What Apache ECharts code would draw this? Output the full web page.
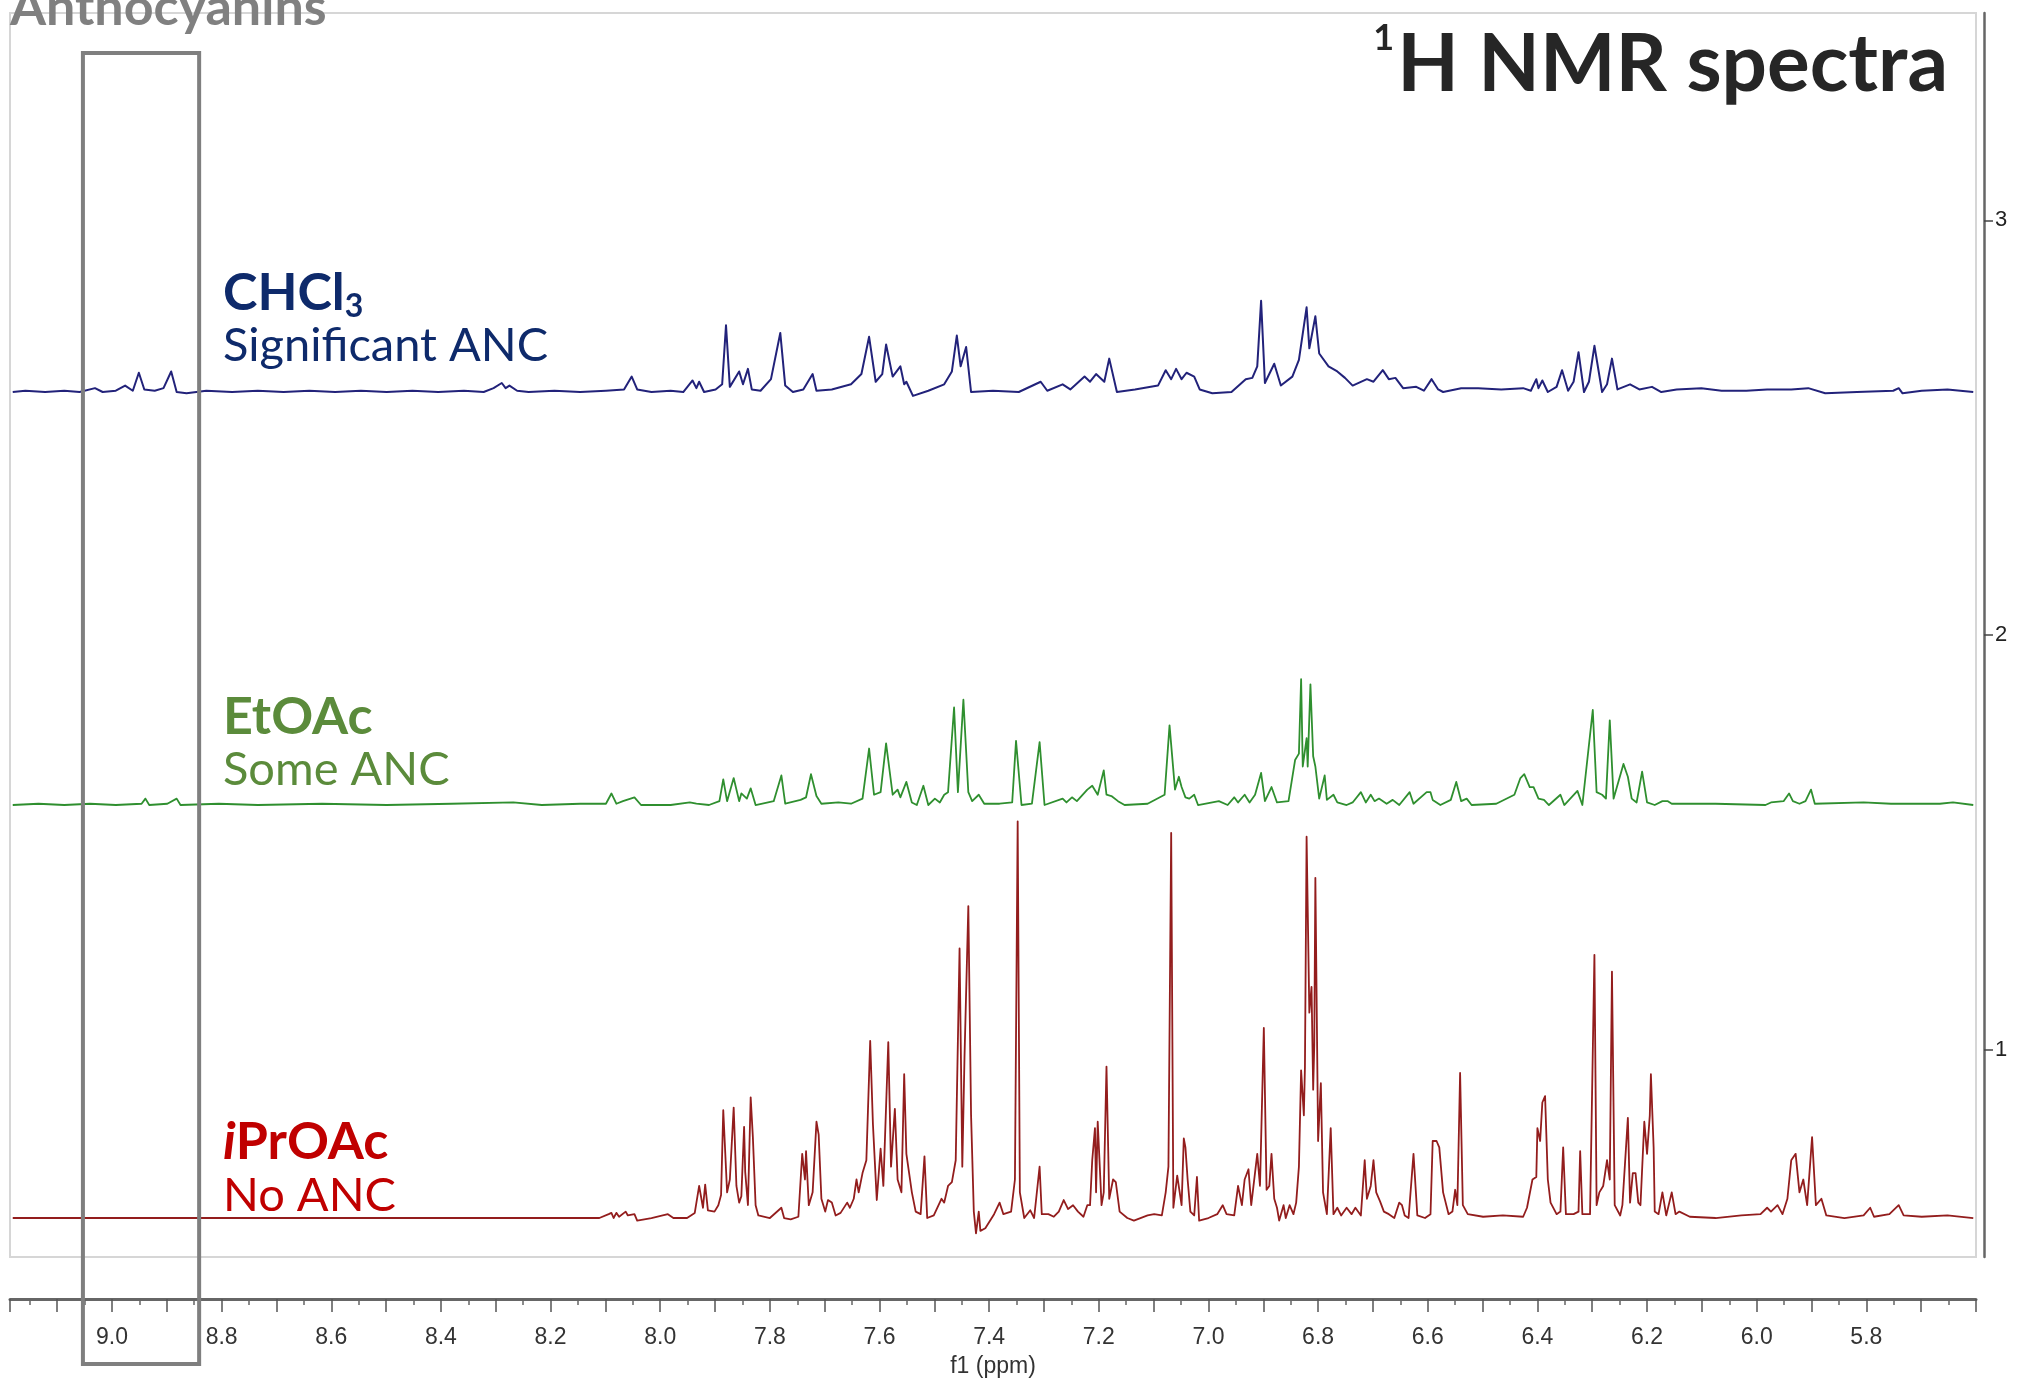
<!DOCTYPE html>
<html>
<head>
<meta charset="utf-8">
<title>1H NMR spectra</title>
<script src="https://cdn.jsdelivr.net/npm/echarts@6/dist/echarts.min.js"></script>
<style>
  html, body { margin: 0; padding: 0; background: #fff; }
  #chart { width: 2023px; height: 1383px; }
</style>
</head>
<body>
<div id="chart"></div>
<script>
// chemical shift (ppm) / intensity (a.u.)
const chcl3Trace = [
  [9.181,0],[9.158,1],[9.122,0],[9.087,1],[9.059,0],[9.031,3],[9.017,0],[8.993,1],[8.976,5],[8.962,1],
  [8.951,15],[8.941,2],[8.922,1],[8.906,3],[8.892,16],[8.882,0],[8.864,-1],[8.828,1],[8.781,0],[8.734,1],
  [8.687,0],[8.640,1],[8.593,0],[8.546,1],[8.499,0],[8.452,1],[8.405,0],[8.358,1],[8.322,0],[8.304,3],
  [8.289,7],[8.282,3],[8.275,5],[8.261,1],[8.240,0],[8.193,1],[8.146,0],[8.099,1],[8.066,2],[8.052,12],
  [8.042,2],[8.016,0],[7.981,1],[7.958,0],[7.941,9],[7.934,3],[7.929,8],[7.920,0],[7.899,2],[7.887,6],
  [7.880,52],[7.873,4],[7.856,16],[7.849,6],[7.840,18],[7.833,2],[7.817,1],[7.798,10],[7.781,46],[7.772,5],
  [7.758,0],[7.739,2],[7.722,14],[7.715,1],[7.687,2],[7.652,6],[7.633,14],[7.619,43],[7.607,8],[7.595,14],
  [7.588,37],[7.576,12],[7.562,20],[7.555,6],[7.551,8],[7.539,-3],[7.511,1],[7.482,6],[7.468,16],[7.459,44],
  [7.452,20],[7.442,35],[7.433,0],[7.393,1],[7.346,0],[7.306,8],[7.294,1],[7.266,6],[7.252,2],[7.226,12],
  [7.216,8],[7.205,14],[7.190,8],[7.181,26],[7.167,0],[7.134,2],[7.092,5],[7.078,17],[7.068,10],[7.059,18],
  [7.049,10],[7.040,15],[7.026,12],[7.016,2],[6.993,-1],[6.958,0],[6.932,10],[6.920,11],[6.911,20],[6.904,71],
  [6.897,7],[6.880,22],[6.868,5],[6.847,12],[6.835,25],[6.821,66],[6.816,34],[6.805,59],[6.798,30],[6.781,20],
  [6.765,16],[6.751,11],[6.737,5],[6.711,10],[6.699,8],[6.682,17],[6.671,10],[6.659,11],[6.645,3],[6.621,4],
  [6.607,1],[6.593,10],[6.581,2],[6.572,0],[6.539,3],[6.508,3],[6.466,2],[6.426,3],[6.412,1],[6.402,10],
  [6.398,3],[6.391,9],[6.381,0],[6.365,4],[6.355,17],[6.344,1],[6.334,8],[6.325,31],[6.315,0],[6.306,8],
  [6.296,36],[6.282,0],[6.273,6],[6.264,26],[6.254,2],[6.231,6],[6.214,2],[6.191,4],[6.174,0],[6.146,2],
  [6.101,3],[6.064,1],[6.019,1],[5.981,2],[5.937,2],[5.906,3],[5.875,-1],[5.817,0],[5.751,1],[5.741,3],
  [5.734,-1],[5.699,1],[5.652,2],[5.605,0]
];

const etoacTrace = [
  [9.181,0],[9.134,1],[9.087,0],[9.040,1],[8.993,0],[8.946,1],[8.939,5],[8.932,0],[8.899,1],[8.882,5],
  [8.875,0],[8.805,1],[8.734,0],[8.617,1],[8.499,0],[8.381,1],[8.268,2],[8.216,0],[8.146,1],[8.099,1],
  [8.089,9],[8.080,1],[8.068,3],[8.061,4],[8.047,6],[8.035,0],[7.981,0],[7.946,2],[7.934,1],[7.911,0],
  [7.892,3],[7.885,20],[7.878,3],[7.866,21],[7.856,3],[7.852,9],[7.842,5],[7.835,13],[7.826,0],[7.793,3],
  [7.779,23],[7.772,1],[7.744,4],[7.734,6],[7.725,24],[7.715,7],[7.706,1],[7.675,2],[7.652,1],[7.631,5],
  [7.619,44],[7.610,8],[7.598,10],[7.588,48],[7.576,8],[7.567,12],[7.562,6],[7.551,18],[7.541,2],[7.532,0],
  [7.520,15],[7.511,0],[7.499,5],[7.490,2],[7.482,8],[7.475,10],[7.464,76],[7.457,10],[7.447,82],[7.438,10],
  [7.431,3],[7.419,8],[7.409,1],[7.381,1],[7.358,2],[7.351,50],[7.341,0],[7.322,1],[7.308,49],[7.299,0],
  [7.266,5],[7.259,2],[7.249,6],[7.240,3],[7.221,12],[7.212,15],[7.202,8],[7.191,27],[7.186,8],[7.177,7],
  [7.165,3],[7.153,0],[7.111,1],[7.080,8],[7.071,62],[7.061,12],[7.054,22],[7.049,14],[7.042,6],[7.035,5],
  [7.026,8],[7.019,0],[6.981,3],[6.965,0],[6.953,6],[6.946,2],[6.934,8],[6.925,2],[6.915,8],[6.904,25],
  [6.897,3],[6.885,14],[6.875,2],[6.854,3],[6.842,35],[6.835,40],[6.831,98],[6.828,30],[6.821,52],[6.819,30],
  [6.814,94],[6.809,38],[6.805,30],[6.798,5],[6.788,23],[6.784,4],[6.772,8],[6.765,2],[6.748,0],[6.737,2],
  [6.722,10],[6.713,2],[6.704,8],[6.697,3],[6.689,5],[6.675,1],[6.664,4],[6.652,0],[6.633,10],[6.626,1],
  [6.602,10],[6.595,10],[6.591,4],[6.577,0],[6.558,4],[6.548,18],[6.539,3],[6.529,5],[6.520,0],[6.475,1],
  [6.442,8],[6.431,21],[6.424,24],[6.414,14],[6.407,14],[6.398,5],[6.388,4],[6.379,0],[6.358,8],[6.351,0],
  [6.327,11],[6.318,0],[6.299,74],[6.292,10],[6.282,8],[6.275,5],[6.268,66],[6.261,5],[6.243,32],[6.235,22],
  [6.228,5],[6.219,2],[6.209,26],[6.200,2],[6.186,0],[6.172,3],[6.162,3],[6.155,1],[6.075,1],[5.984,0],
  [5.974,2],[5.951,3],[5.941,9],[5.934,3],[5.922,1],[5.911,3],[5.901,12],[5.894,1],[5.805,2],[5.755,1],
  [5.666,1],[5.642,2],[5.605,0]
];

const iproacTrace = [
  [9.181,0],[8.734,0],[8.264,0],[8.111,0],[8.094,3],[8.089,4],[8.085,0],[8.080,4],[8.075,1],[8.063,5],
  [8.059,2],[8.047,3],[8.042,-2],[8.016,0],[7.986,3],[7.976,0],[7.951,0],[7.937,4],[7.929,25],[7.922,8],
  [7.918,26],[7.913,6],[7.901,5],[7.894,10],[7.889,18],[7.885,84],[7.878,20],[7.873,30],[7.866,86],[7.861,25],
  [7.856,12],[7.852,17],[7.847,71],[7.845,36],[7.840,10],[7.835,94],[7.831,63],[7.826,10],[7.821,2],[7.800,0],
  [7.779,8],[7.774,0],[7.762,-1],[7.748,1],[7.741,50],[7.736,30],[7.734,52],[7.729,10],[7.722,20],[7.715,75],
  [7.711,65],[7.706,15],[7.699,5],[7.694,14],[7.687,12],[7.680,2],[7.671,4],[7.659,12],[7.654,8],[7.647,15],
  [7.642,30],[7.638,20],[7.631,35],[7.624,45],[7.617,138],[7.612,73],[7.605,14],[7.598,54],[7.593,25],[7.584,137],
  [7.579,40],[7.572,85],[7.567,30],[7.560,20],[7.555,112],[7.551,50],[7.546,35],[7.541,20],[7.534,5],[7.525,3],
  [7.518,48],[7.513,0],[7.501,2],[7.487,15],[7.482,12],[7.475,25],[7.468,28],[7.461,45],[7.454,210],[7.449,40],
  [7.445,125],[7.438,243],[7.433,80],[7.428,5],[7.424,-12],[7.419,5],[7.416,-10],[7.407,-8],[7.391,3],[7.381,12],
  [7.374,3],[7.360,5],[7.353,30],[7.348,309],[7.344,20],[7.336,0],[7.325,6],[7.318,0],[7.308,40],[7.304,3],
  [7.292,3],[7.282,1],[7.273,5],[7.264,14],[7.256,7],[7.247,10],[7.238,5],[7.228,1],[7.221,10],[7.216,10],
  [7.212,45],[7.207,70],[7.205,20],[7.202,75],[7.195,10],[7.191,20],[7.186,118],[7.181,15],[7.174,30],[7.169,28],
  [7.162,5],[7.148,0],[7.136,-2],[7.111,2],[7.099,3],[7.085,2],[7.078,20],[7.073,40],[7.068,300],[7.064,8],
  [7.057,33],[7.049,10],[7.045,62],[7.042,55],[7.038,30],[7.033,5],[7.026,2],[7.021,32],[7.017,-2],[7.000,0],
  [6.984,3],[6.974,10],[6.967,3],[6.953,2],[6.946,25],[6.939,10],[6.934,30],[6.927,38],[6.922,10],[6.911,50],
  [6.906,25],[6.904,60],[6.899,148],[6.894,22],[6.889,25],[6.885,50],[6.880,15],[6.875,8],[6.871,-2],[6.863,10],
  [6.859,0],[6.852,10],[6.845,3],[6.840,12],[6.835,40],[6.831,115],[6.826,80],[6.824,118],[6.821,297],[6.816,160],
  [6.812,180],[6.809,100],[6.807,135],[6.805,265],[6.800,60],[6.795,105],[6.791,20],[6.784,3],[6.777,70],[6.772,3],
  [6.765,8],[6.758,2],[6.748,8],[6.739,3],[6.732,8],[6.722,2],[6.715,45],[6.711,15],[6.704,25],[6.699,45],
  [6.694,20],[6.687,13],[6.680,5],[6.671,3],[6.661,0],[6.652,12],[6.647,10],[6.642,2],[6.635,0],[6.626,50],
  [6.619,2],[6.605,0],[6.595,3],[6.591,60],[6.584,60],[6.579,55],[6.572,20],[6.562,3],[6.555,5],[6.550,22],
  [6.546,10],[6.541,113],[6.536,10],[6.527,3],[6.499,1],[6.463,2],[6.426,1],[6.419,8],[6.409,30],[6.402,32],
  [6.400,70],[6.395,60],[6.391,90],[6.386,95],[6.381,30],[6.376,12],[6.365,3],[6.358,5],[6.353,55],[6.348,3],
  [6.334,3],[6.325,5],[6.322,52],[6.318,3],[6.304,3],[6.296,205],[6.292,10],[6.287,20],[6.280,25],[6.273,45],
  [6.268,30],[6.264,192],[6.259,10],[6.249,2],[6.245,10],[6.235,78],[6.231,12],[6.226,35],[6.221,35],[6.216,12],
  [6.212,10],[6.205,75],[6.200,50],[6.195,80],[6.193,112],[6.188,55],[6.186,5],[6.179,3],[6.172,20],[6.165,2],
  [6.155,20],[6.148,3],[6.141,5],[6.122,1],[6.075,0],[6.028,2],[5.993,3],[5.981,8],[5.974,5],[5.962,10],
  [5.953,3],[5.944,15],[5.937,45],[5.929,50],[5.922,20],[5.915,30],[5.908,10],[5.899,63],[5.892,10],[5.882,15],
  [5.873,2],[5.840,0],[5.805,2],[5.793,8],[5.786,1],[5.758,3],[5.741,10],[5.732,2],[5.699,1],[5.652,2],
  [5.605,0]
];

const traceNames = ['CHCl3', 'EtOAc', 'iPrOAc'];
const traceOffsets = [2.586, 1.590, 0.594];   // stacked baselines on the intensity axis
const AU_PER_UNIT = 323;                       // vertical scale: a.u. per axis unit
const xTickLabels = [9.0, 8.8, 8.6, 8.4, 8.2, 8.0, 7.8, 7.6, 7.4, 7.2, 7.0, 6.8, 6.6, 6.4, 6.2, 6.0, 5.8];
const yTickValues = [1, 2, 3];
const boxRange = [9.053, 8.841];               // anthocyanin window (ppm)

const traceColors = ['#22227a', '#2f8f2f', '#931d1d'];
const traceWidths = [2, 1.8, 1.8];

const chart = echarts.init(document.getElementById('chart'));

const traces = [chcl3Trace, etoacTrace, iproacTrace];
const series = traces.map((trace, i) => ({
  name: traceNames[i],
  type: 'line',
  data: trace.map(([ppm, au]) => [ppm, traceOffsets[i] + au / AU_PER_UNIT]),
  showSymbol: false,
  smooth: false,
  lineStyle: { color: traceColors[i], width: traceWidths[i], join: 'round' },
  z: 3
}));

const labelFont = 'Lato, "Open Sans", sans-serif';
const axisFont = '"Liberation Sans", sans-serif';

chart.setOption({
  animation: false,
  backgroundColor: '#fff',
  grid: {
    left: 10,
    right: 47,
    top: 13,
    bottom: 119,
    show: true,
    borderColor: '#d6d6d6',
    borderWidth: 2
  },
  xAxis: {
    type: 'value',
    inverse: true,
    min: 5.6,
    max: 9.186,
    interval: 0.1,
    position: 'bottom',
    offset: 42,
    name: 'f1 (ppm)',
    nameLocation: 'middle',
    nameGap: 56,
    nameTextStyle: { fontFamily: axisFont, fontSize: 23, color: '#333' },
    axisLine: { show: true, onZero: false, lineStyle: { color: '#666', width: 3 } },
    axisTick: { show: true, length: 13, lineStyle: { color: '#555', width: 1.5 } },
    minorTick: { show: true, splitNumber: 2, length: 6, lineStyle: { color: '#666', width: 1.5 } },
    axisLabel: {
      customValues: xTickLabels,
      formatter: v => v.toFixed(1),
      fontFamily: axisFont,
      fontSize: 23,
      color: '#333',
      margin: 27
    },
    splitLine: { show: false }
  },
  yAxis: {
    type: 'value',
    position: 'right',
    offset: 8,
    min: 0.5,
    max: 3.5,
    axisLine: { show: true, lineStyle: { color: '#666', width: 2.5 } },
    axisTick: { show: true, customValues: yTickValues, length: 9, lineStyle: { color: '#444', width: 1.5 } },
    axisLabel: { show: false },
    splitLine: { show: false }
  },
  series
});

// annotations: positioned after the axes exist so they follow the scales
const boxLeft = chart.convertToPixel({ xAxisIndex: 0 }, boxRange[0]);
const boxRight = chart.convertToPixel({ xAxisIndex: 0 }, boxRange[1]);
const yAxisX = chart.getWidth() - 47 + 8;

function label(x, y, text, size, color, weight, extra) {
  return {
    type: 'text',
    x, y,
    z: 10,
    style: Object.assign({
      text,
      fill: color,
      fontFamily: labelFont,
      fontSize: size,
      fontWeight: weight,
      verticalAlign: 'middle',
      align: 'left'
    }, extra || {})
  };
}

// right-hand intensity labels, placed through the y scale
const yLabels = yTickValues.map(v => ({
  type: 'text',
  x: yAxisX + 11,
  y: chart.convertToPixel({ yAxisIndex: 0 }, v),
  z: 10,
  style: { text: String(v), fill: '#222', fontFamily: axisFont, fontSize: 22, verticalAlign: 'middle', align: 'left' }
}));

chart.setOption({
  graphic: [
    {
      type: 'rect',
      z: 20,
      shape: { x: boxLeft, y: 53, width: boxRight - boxLeft, height: 1311 },
      style: { fill: 'none', stroke: '#7f7f7f', lineWidth: 4 }
    },
    label(10, 8, 'Anthocyanins', 52, '#808080', 'bold'),
    label(1948, 65, '{sup|1}{main|H NMR spectra}', 80, '#262626', 'bold', {
      align: 'right',
      rich: {
        sup: { fontSize: 36, fontWeight: 'bold', fontFamily: labelFont, fill: '#262626', verticalAlign: 'top', lineHeight: 82, padding: [0, 3, 0, 0] },
        main: { fontSize: 80, fontWeight: 'bold', fontFamily: labelFont, fill: '#262626', lineHeight: 90 }
      }
    }),
    label(223, 293, '{main|CHCl}{sub|3}', 52, '#0e2a6b', 'bold', {
      rich: {
        main: { fontSize: 52, fontWeight: 'bold', fontFamily: labelFont, fill: '#0e2a6b', lineHeight: 60 },
        sub: { fontSize: 32, fontWeight: 'bold', fontFamily: labelFont, fill: '#0e2a6b', verticalAlign: 'bottom', lineHeight: 24 }
      }
    }),
    label(223, 346, 'Significant ANC', 47, '#0e2a6b', 'normal'),
    label(223, 717, 'EtOAc', 52, '#5b8b3b', 'bold'),
    label(223, 770, 'Some ANC', 47, '#5b8b3b', 'normal'),
    label(223, 1142, '{it|i}{main|PrOAc}', 52, '#c00000', 'bold', {
      rich: {
        it: { fontSize: 52, fontWeight: 'bold', fontStyle: 'italic', fontFamily: labelFont, fill: '#c00000' },
        main: { fontSize: 52, fontWeight: 'bold', fontFamily: labelFont, fill: '#c00000' }
      }
    }),
    label(223, 1196, 'No ANC', 47, '#c00000', 'normal')
  ].concat(yLabels)
});

window.addEventListener('resize', () => chart.resize());
</script>
</body>
</html>
